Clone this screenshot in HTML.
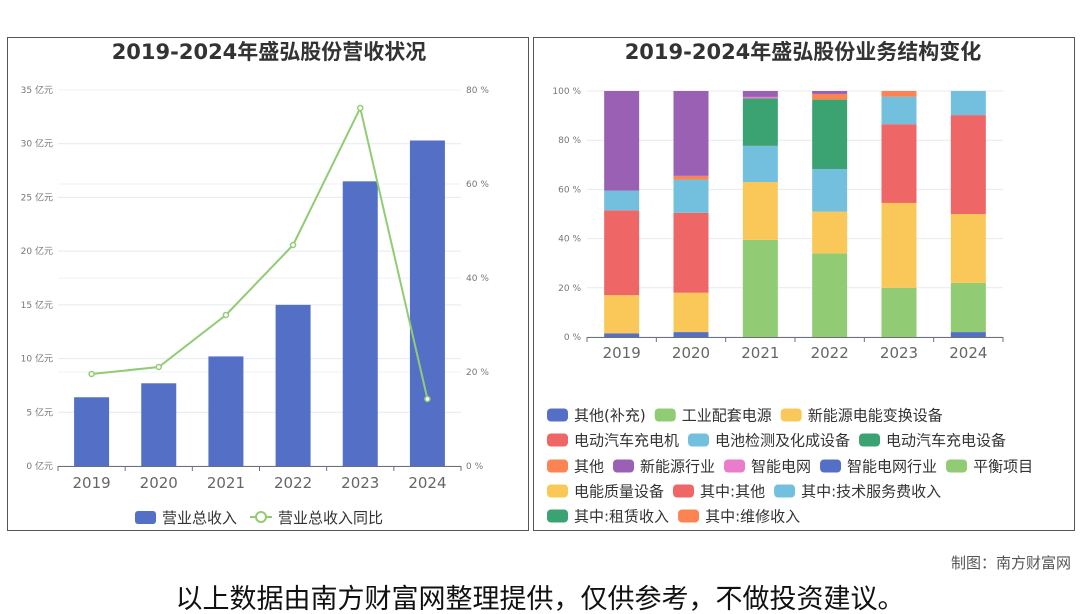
<!DOCTYPE html>
<html><head><meta charset="utf-8">
<style>
html,body{margin:0;padding:0;background:#fff;width:1080px;height:614px;overflow:hidden}
svg text{font-family:"DejaVu Sans","Noto Sans CJK SC",sans-serif}
</style></head><body>
<svg id="s" width="1080" height="614" viewBox="0 0 1080 614" xmlns="http://www.w3.org/2000/svg">
<rect x="7.5" y="37.5" width="521" height="493" fill="none" stroke="#555" stroke-width="1"/>
<rect x="533.5" y="37.5" width="541" height="493" fill="none" stroke="#555" stroke-width="1"/>
<text x="269" y="59" font-size="21" font-weight="bold" fill="#333" text-anchor="middle">2019-2024年盛弘股份营收状况</text>
<text x="803" y="59" font-size="21" font-weight="bold" fill="#333" text-anchor="middle">2019-2024年盛弘股份业务结构变化</text>
<g id="L"></g>
<g id="R"></g>
<text x="1071" y="568" font-size="15" fill="#555" text-anchor="end" style="font-family:'Noto Sans CJK SC',sans-serif">制图：南方财富网</text>
<text x="540" y="608" font-size="27" fill="#111" text-anchor="middle" style="font-family:'Noto Sans CJK SC',sans-serif">以上数据由南方财富网整理提供，仅供参考，不做投资建议。</text>
</svg>
<script>
var NS="http://www.w3.org/2000/svg";
function el(p,t,a,txt){var e=document.createElementNS(NS,t);for(var k in a)e.setAttribute(k,a[k]);if(txt!=null)e.textContent=txt;p.appendChild(e);return e;}
var L=document.getElementById("L"),R=document.getElementById("R");
var y0=466,pu=376/35;
for(var i=0;i<=7;i++){var y=y0-i*5*pu;el(L,"line",{x1:58,x2:461,y1:y,y2:y,stroke:"#e6e9f0"});el(L,"text",{x:53,y:y+3,"font-size":9,fill:"#777","text-anchor":"end"},(i*5)+" 亿元");}
for(var i=1;i<=4;i++){var y=y0-i*94;el(L,"line",{x1:58,x2:461,y1:y,y2:y,stroke:"#eef0f4"});el(L,"text",{x:466,y:y+3,"font-size":9,fill:"#777"},(i*20)+" %");}
el(L,"text",{x:466,y:469,"font-size":9,fill:"#777"},"0 %");
var cw=403/6,vals=[6.4,7.7,10.2,15.0,26.5,30.3],yrs=[2019,2020,2021,2022,2023,2024];
var lp=[374,367,315,245,108,399],pts=[];
for(var i=0;i<6;i++){var c=58+cw*(i+0.5);var h=vals[i]*pu;el(L,"rect",{x:c-17.5,y:y0-h,width:35,height:h,fill:"#5470c6"});
el(L,"text",{x:c,y:488,"font-size":15,fill:"#666","text-anchor":"middle"},yrs[i]);pts.push(c+","+lp[i]);}
el(L,"line",{x1:58,x2:461,y1:466.5,y2:466.5,stroke:"#6e7079"});
for(var i=0;i<=6;i++){var x=58+cw*i;el(L,"line",{x1:x,x2:x,y1:466,y2:471,stroke:"#6e7079"});}
el(L,"polyline",{points:pts.join(" "),fill:"none",stroke:"#91cc75","stroke-width":2});
for(var i=0;i<6;i++){var p=pts[i].split(",");el(L,"circle",{cx:p[0],cy:p[1],r:2.5,fill:"#fff",stroke:"#91cc75","stroke-width":1.5});}
el(L,"rect",{x:135,y:511,width:21,height:13,rx:3,fill:"#5470c6"});
el(L,"text",{x:162,y:523,"font-size":15,fill:"#333"},"营业总收入");
el(L,"line",{x1:250,x2:272,y1:517,y2:517,stroke:"#91cc75","stroke-width":2});
el(L,"circle",{cx:261,cy:517,r:5,fill:"#fff",stroke:"#91cc75","stroke-width":2});
el(L,"text",{x:278,y:523,"font-size":15,fill:"#333"},"营业总收入同比");
var C={b:"#5470c6",g:"#91cc75",y:"#fac858",r:"#ee6666",lb:"#73c0de",dg:"#3ba272",o:"#fc8452",p:"#9a60b4",pk:"#ea7ccc"};
function yp(p){return 337-p*2.46;}
for(var i=0;i<=5;i++){var y=yp(i*20);el(R,"line",{x1:587,x2:1003,y1:y,y2:y,stroke:"#e6e9f0"});el(R,"text",{x:581,y:y+3,"font-size":9,fill:"#777","text-anchor":"end"},(i*20)+" %");}
var segs=[
[["b",1.5],["y",17],["r",51.5],["lb",59.5],["p",100]],
[["b",2],["y",18],["r",50.5],["lb",64],["o",65.5],["p",100]],
[["g",39.5],["y",63],["lb",77.7],["dg",97],["pk",97.6],["p",100]],
[["g",34],["y",51],["lb",68.3],["dg",96.5],["o",98.8],["p",100]],
[["g",20],["y",54.5],["r",86.5],["lb",97.7],["o",100]],
[["b",2],["g",22],["y",50],["r",90.2],["lb",100]]];
var rw=416/6;
for(var i=0;i<6;i++){var c=587+rw*(i+0.5),prev=0;
for(var j=0;j<segs[i].length;j++){var s=segs[i][j];el(R,"rect",{x:c-17.5,y:yp(s[1]),width:35,height:(s[1]-prev)*2.46,fill:C[s[0]]});prev=s[1];}
el(R,"text",{x:c,y:358,"font-size":15,fill:"#666","text-anchor":"middle"},yrs[i]);}
el(R,"line",{x1:587,x2:1003,y1:337.5,y2:337.5,stroke:"#6e7079"});
for(var i=0;i<=6;i++){var x=587+rw*i;el(R,"line",{x1:x,x2:x,y1:337,y2:342,stroke:"#6e7079"});}
var rows=[
[["b","其他(补充)"],["g","工业配套电源"],["y","新能源电能变换设备"]],
[["r","电动汽车充电机"],["lb","电池检测及化成设备"],["dg","电动汽车充电设备"]],
[["o","其他"],["p","新能源行业"],["pk","智能电网"],["b","智能电网行业"],["g","平衡项目"]],
[["y","电能质量设备"],["r","其中:其他"],["lb","其中:技术服务费收入"]],
[["dg","其中:租赁收入"],["o","其中:维修收入"]]];
var ry=[415,440,466,491,516];
for(var r=0;r<5;r++){var x=547;for(var k=0;k<rows[r].length;k++){var it=rows[r][k];
el(R,"rect",{x:x,y:ry[r]-6.5,width:21,height:13,rx:4,fill:C[it[0]]});
var t=el(R,"text",{x:x+27,y:ry[r]+5.5,"font-size":15,fill:"#333"},it[1]);
var w=t.getComputedTextLength();x=x+27+w+9;}}
</script>
</body></html>
